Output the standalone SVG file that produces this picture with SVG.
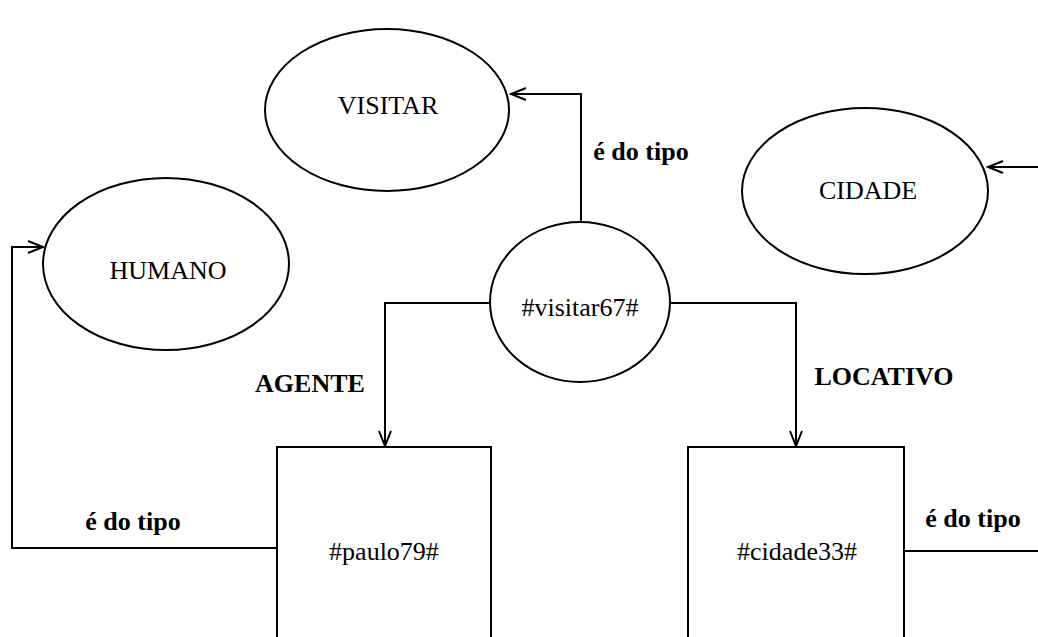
<svg xmlns="http://www.w3.org/2000/svg" width="1038" height="637" viewBox="0 0 1038 637">
  <style>
    .shape { fill: #ffffff; stroke: #000000; stroke-width: 2; }
    .edge { fill: none; stroke: #000000; stroke-width: 2; }
    .lbl { font-family: "Liberation Serif", "Times New Roman", serif; font-size: 26px; fill: #000000; text-anchor: middle; }
    .rel { font-family: "Liberation Serif", "Times New Roman", serif; font-size: 26px; font-weight: bold; fill: #000000; text-anchor: middle; }
  </style>
  <defs>
    <marker id="open-arrow" markerWidth="18" markerHeight="14" refX="16" refY="7" orient="auto" markerUnits="userSpaceOnUse">
      <path d="M1,1 L16,7 L1,13" fill="none" stroke="#000000" stroke-width="2"/>
    </marker>
  </defs>

  <!-- concept nodes -->
  <g id="visitar">
    <ellipse class="shape" cx="387" cy="110" rx="122" ry="81"/>
    <text class="lbl" x="388" y="114">VISITAR</text>
  </g>
  <g id="humano">
    <ellipse class="shape" cx="166" cy="264" rx="123" ry="86"/>
    <text class="lbl" x="168" y="279">HUMANO</text>
  </g>
  <g id="cidade">
    <ellipse class="shape" cx="865" cy="191" rx="123" ry="83"/>
    <text class="lbl" x="868" y="199">CIDADE</text>
  </g>

  <!-- instance nodes -->
  <g id="visitar67">
    <ellipse class="shape" cx="580" cy="302" rx="90" ry="80"/>
    <text class="lbl" x="580" y="316">#visitar67#</text>
  </g>
  <g id="paulo79">
    <rect class="shape" x="277" y="447" width="214" height="200"/>
    <text class="lbl" x="384" y="560">#paulo79#</text>
  </g>
  <g id="cidade33">
    <rect class="shape" x="688" y="447" width="216" height="200"/>
    <text class="lbl" x="797" y="560">#cidade33#</text>
  </g>

  <!-- connectors -->
  <g id="connectors">
    <path class="edge" d="M581,223 L581,94 L511,94" marker-end="url(#open-arrow)"/>
    <path class="edge" d="M490,303 L385,303 L385,446" marker-end="url(#open-arrow)"/>
    <path class="edge" d="M670,303 L796,303 L796,446" marker-end="url(#open-arrow)"/>
    <path class="edge" d="M277,548 L12,548 L12,247 L43,247" marker-end="url(#open-arrow)"/>
    <path class="edge" d="M904,551 L1046,551 L1046,167 L988,167" marker-end="url(#open-arrow)"/>
  </g>

  <!-- relation labels -->
  <g id="labels">
    <text class="rel" x="641" y="160">é do tipo</text>
    <text class="rel" x="310" y="392">AGENTE</text>
    <text class="rel" x="884" y="385">LOCATIVO</text>
    <text class="rel" x="133" y="530">é do tipo</text>
    <text class="rel" x="973" y="527">é do tipo</text>
  </g>
</svg>
